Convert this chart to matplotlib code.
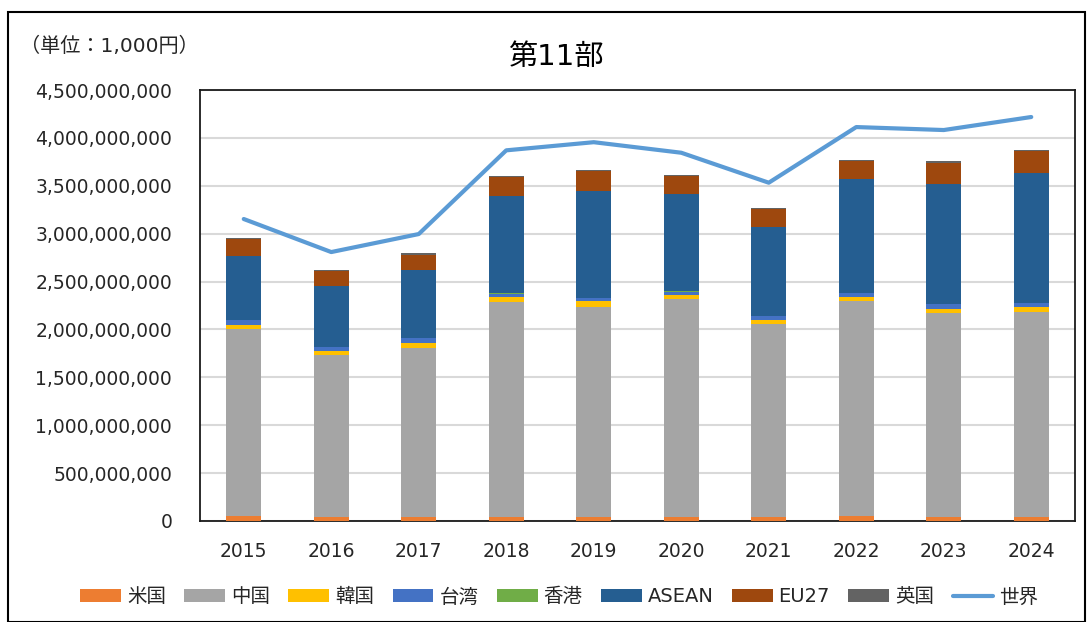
import matplotlib
matplotlib.use("Agg")
import matplotlib.pyplot as plt
from matplotlib.patches import Rectangle, Patch
from matplotlib.lines import Line2D
from matplotlib.ticker import FuncFormatter, MultipleLocator
import numpy as np

plt.rcParams['font.family'] = ['DejaVu Sans', 'Noto Sans CJK JP']

years = ["2015", "2016", "2017", "2018", "2019", "2020", "2021", "2022", "2023", "2024"]
# values in 1,000 yen
us     = [50e6, 45e6, 45e6, 45e6, 45e6, 45e6, 45e6, 50e6, 45e6, 45e6]
china  = [1954e6, 1685e6, 1761e6, 2238e6, 2192e6, 2273e6, 2015e6, 2244e6, 2127e6, 2140e6]
korea  = [46e6, 45e6, 52e6, 55e6, 56e6, 42e6, 35e6, 44e6, 45e6, 46e6]
taiwan = [48e6, 42e6, 52e6, 35e6, 35e6, 34e6, 45e6, 42e6, 45e6, 45e6]
hk     = [3e6, 3e6, 3e6, 3e6, 3e6, 3e6, 3e6, 3e6, 3e6, 3e6]
asean  = [671e6, 633e6, 707e6, 1014e6, 1114e6, 1020e6, 927e6, 1187e6, 1253e6, 1351e6]
eu27   = [170e6, 160e6, 157e6, 200e6, 209e6, 185e6, 187e6, 192e6, 219e6, 233e6]
uk     = [8e6, 8e6, 18e6, 15e6, 8e6, 8e6, 8e6, 10e6, 25e6, 10e6]
world  = [3153e6, 2808e6, 2996e6, 3870e6, 3955e6, 3845e6, 3532e6, 4113e6, 4082e6, 4218e6]

series_names = ["米国", "中国", "韓国", "台湾", "香港", "ASEAN", "EU27", "英国"]
series_vals = [us, china, korea, taiwan, hk, asean, eu27, uk]
colors = ["#ED7D31", "#A5A5A5", "#FFC000", "#4472C4", "#70AD47", "#255E91", "#9E480E", "#636363"]
world_name = "世界"
world_color = "#5B9BD5"
title = "第11部"
unit_label = "（単位：1,000円）"

fig = plt.figure(figsize=(10.88, 6.22), dpi=100)
fig.patches.append(Rectangle((8/1088, 0), (1085-8)/1088, (622-12)/622, transform=fig.transFigure,
                             fill=False, edgecolor="black", linewidth=1.5, zorder=10))

ax = fig.add_axes([200/1088, 101/622, 875/1088, 431/622])
x = np.arange(len(years))
bottom = np.zeros(len(years))
for name, vals, c in zip(series_names, series_vals, colors):
    v = np.array(vals)
    ax.bar(x, v, bottom=bottom, width=0.4, color=c, label=name, zorder=3)
    bottom += v
ax.plot(x, world, color=world_color, linewidth=3, label=world_name, zorder=4, solid_capstyle='round')

ax.set_xlim(-0.5, len(years) - 0.5)
ax.set_ylim(0, 4.5e9)
ax.yaxis.set_major_locator(MultipleLocator(5e8))
ax.yaxis.set_major_formatter(FuncFormatter(lambda v, p: f"{int(round(v)):,}"))
ax.set_xticks(x)
ax.set_xticklabels(years)
ax.tick_params(axis='both', length=0, labelsize=13.5, colors="#262626")
ax.tick_params(axis='y', pad=20)
ax.tick_params(axis='x', pad=15)
ax.grid(axis='y', color="#D9D9D9", linewidth=1.5, zorder=0)
for s in ax.spines.values():
    s.set_color("#1a1a1a")
    s.set_linewidth(1.3)

fig.text(556/1088, 1 - 57/622, title, ha='center', va='center', fontsize=21, color="black")
fig.text(20/1088, 1 - 46/622, unit_label, ha='left', va='center', fontsize=14.5, color="#262626")

handles = [Patch(facecolor=c, label=n) for n, c in zip(series_names, colors)]
handles.append(Line2D([0], [0], color=world_color, linewidth=3, label=world_name, solid_capstyle='round'))
fig.legend(handles=handles, loc='center', bbox_to_anchor=(0.514, 1 - 597/622), ncol=9,
           frameon=False, fontsize=14, handlelength=2.1, handleheight=0.6, handletextpad=0.3,
           columnspacing=0.95, labelcolor="#262626")

fig.savefig("out.png", dpi=100)
